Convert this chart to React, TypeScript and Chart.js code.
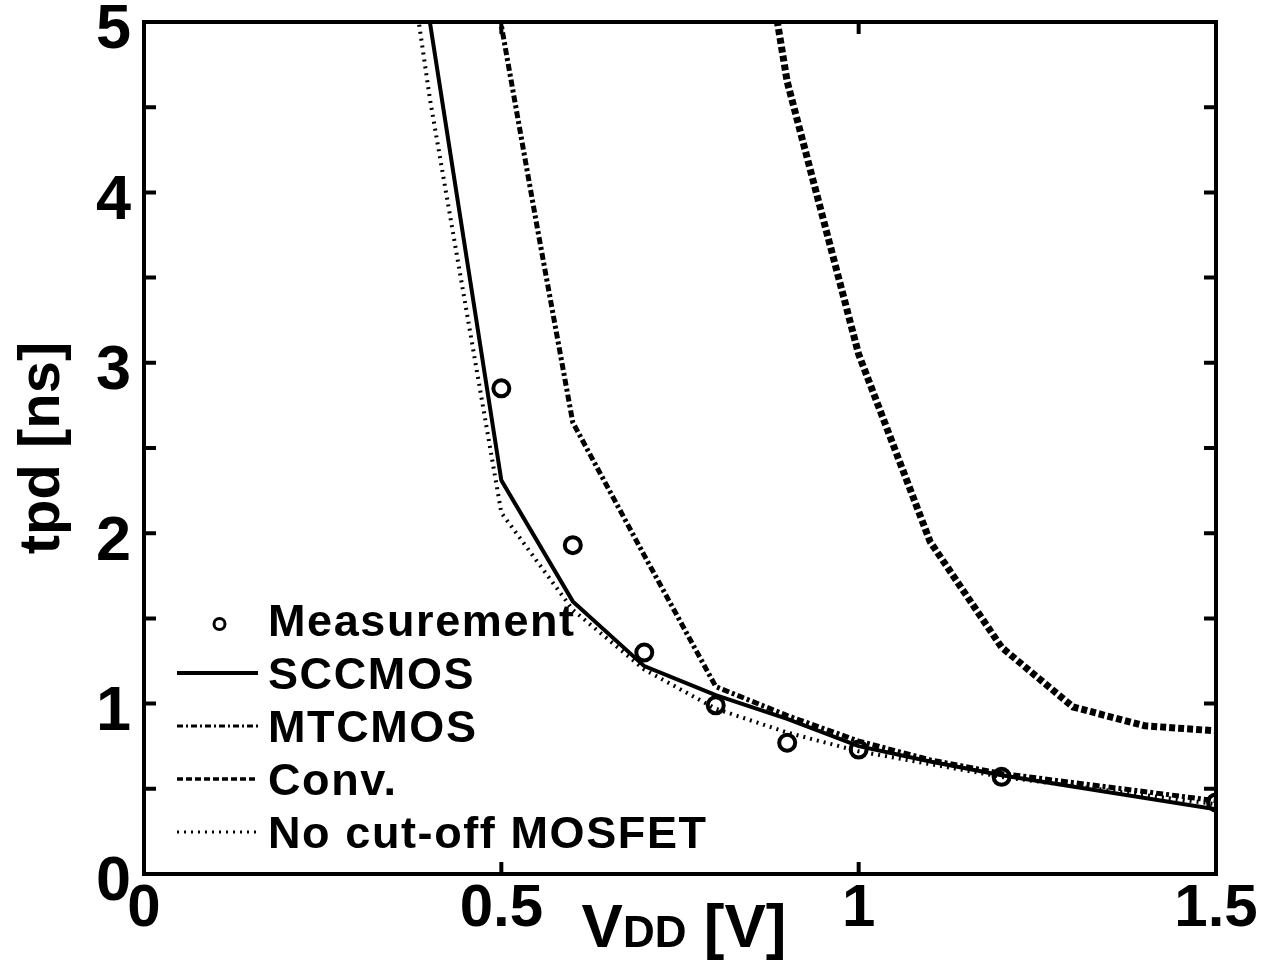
import React, { useEffect, useRef } from "react";
import { Chart, registerables } from "chart.js";

Chart.register(...registerables);

const FONT = '"Liberation Sans", Arial, Helvetica, sans-serif';

// ---- data (V in volts, t in ns) ----
const measV = [0.5, 0.6, 0.7, 0.8, 0.9, 1.0, 1.2, 1.5];
const measT = [2.85, 1.93, 1.3, 0.99, 0.77, 0.73, 0.57, 0.42];

const sccV = [0.35, 0.4, 0.5, 0.6, 0.7, 0.8, 0.9, 1.0, 1.1, 1.2, 1.5];
const sccT = [8.0, 5.0, 2.31, 1.6, 1.22, 1.05, 0.91, 0.75, 0.66, 0.58, 0.38];

const mtV = [0.45, 0.5, 0.55, 0.6, 0.7, 0.8, 0.9, 1.0, 1.1, 1.2, 1.5];
const mtT = [8.5, 4.98, 3.8, 2.65, 1.87, 1.1, 0.93, 0.78, 0.67, 0.59, 0.43];

const convV = [0.8, 0.9, 1.0, 1.1, 1.2, 1.3, 1.4, 1.5];
const convT = [7.2, 4.65, 3.05, 1.95, 1.33, 0.98, 0.87, 0.84];

const ncV = [0.35, 0.4, 0.5, 0.6, 0.7, 0.8, 0.9, 1.0, 1.2, 1.5];
const ncT = [6.0, 4.55, 2.12, 1.55, 1.2, 0.97, 0.83, 0.72, 0.57, 0.41];

const seriesLabels = ["Measurement", "SCCMOS", "MTCMOS", "Conv.", "No cut-off MOSFET"];

const xTickMarks = [0.5, 1.0];
const yTickMarks = [0.5, 1, 1.5, 2, 2.5, 3, 3.5, 4, 4.5];

const pts = (xs: number[], ys: number[]) => xs.map((x, i) => ({ x, y: ys[i] }));

const framePlugin = {
  id: "frameTicks",
  afterDatasetsDraw(chart: any) {
    const { ctx, chartArea: a, scales } = chart;
    ctx.save();
    ctx.strokeStyle = "#000";
    ctx.lineWidth = 4;
    ctx.setLineDash([]);
    ctx.strokeRect(a.left, a.top, a.right - a.left, a.bottom - a.top);
    const tl = 12;
    ctx.beginPath();
    for (const v of yTickMarks) {
      const py = scales.y.getPixelForValue(v);
      ctx.moveTo(a.left, py);
      ctx.lineTo(a.left + tl, py);
      ctx.moveTo(a.right, py);
      ctx.lineTo(a.right - tl, py);
    }
    for (const v of xTickMarks) {
      const px = scales.x.getPixelForValue(v);
      ctx.moveTo(px, a.bottom);
      ctx.lineTo(px, a.bottom - tl);
      ctx.moveTo(px, a.top);
      ctx.lineTo(px, a.top + tl);
    }
    ctx.stroke();
    ctx.restore();
  },
};

const legendPlugin = {
  id: "inlineLegend",
  afterDatasetsDraw(chart: any) {
    const ctx = chart.ctx;
    const x0 = 177;
    const x1 = 258;
    const textX = 268;
    const base0 = 636;
    const step = 53;
    ctx.save();
    chart.data.datasets.forEach((ds: any, i: number) => {
      const base = base0 + i * step;
      const my = base - 16;
      ctx.strokeStyle = "#000";
      if (!ds.showLine) {
        ctx.setLineDash([]);
        ctx.lineWidth = 3;
        ctx.beginPath();
        ctx.arc((x0 + x1) / 2 + 2, my + 4, 5.5, 0, Math.PI * 2);
        ctx.stroke();
      } else {
        ctx.setLineDash(ds.legendDash || ds.borderDash || []);
        ctx.lineWidth = ds.legendWidth || 3;
        ctx.beginPath();
        ctx.moveTo(x0, my);
        ctx.lineTo(x1, my);
        ctx.stroke();
      }
      ctx.setLineDash([]);
      ctx.fillStyle = "#000";
      ctx.font = `bold 45px ${FONT}`;
      (ctx as any).letterSpacing = "1.6px";
      ctx.textBaseline = "alphabetic";
      ctx.textAlign = "left";
      ctx.fillText(ds.label, textX, base);
      (ctx as any).letterSpacing = "0px";
    });
    ctx.restore();
  },
};

const xTitlePlugin = {
  id: "xTitle",
  afterDraw(chart: any) {
    const { ctx, chartArea: a } = chart;
    const parts = [
      { t: "V", s: 62 },
      { t: "DD", s: 44 },
      { t: " [V]", s: 62 },
    ];
    ctx.save();
    ctx.fillStyle = "#000";
    ctx.textBaseline = "alphabetic";
    ctx.textAlign = "left";
    let total = 0;
    const widths = parts.map((p) => {
      ctx.font = `bold ${p.s}px ${FONT}`;
      const w = ctx.measureText(p.t).width;
      total += w;
      return w;
    });
    let x = (a.left + a.right) / 2 + 4 - total / 2;
    const baseline = 947;
    parts.forEach((p, i) => {
      ctx.font = `bold ${p.s}px ${FONT}`;
      ctx.fillText(p.t, x, baseline);
      x += widths[i];
    });
    ctx.restore();
  },
};

export default function App() {
  const ref = useRef<HTMLCanvasElement>(null);

  useEffect(() => {
    if (!ref.current) return;
    const line = { showLine: true, pointRadius: 0, borderColor: "#000", backgroundColor: "transparent", tension: 0, fill: false };
    const chart = new Chart(ref.current, {
      type: "scatter",
      data: {
        datasets: [
          {
            label: seriesLabels[0],
            data: pts(measV, measT),
            showLine: false,
            pointStyle: "circle",
            pointRadius: 8,
            pointBorderWidth: 4,
            pointBackgroundColor: "rgba(0,0,0,0)",
            pointBorderColor: "#000",
            borderColor: "#000",
            backgroundColor: "transparent",
          } as any,
          { label: seriesLabels[1], data: pts(sccV, sccT), ...line, borderWidth: 4, borderDash: [], legendWidth: 4 } as any,
          { label: seriesLabels[2], data: pts(mtV, mtT), ...line, borderWidth: 5, borderDash: [7, 3, 3, 3], legendDash: [6, 3, 2, 3], legendWidth: 3 } as any,
          { label: seriesLabels[3], data: pts(convV, convT), ...line, borderWidth: 7, borderDash: [6, 3], legendDash: [6, 3], legendWidth: 3.5 } as any,
          { label: seriesLabels[4], data: pts(ncV, ncT), ...line, borderWidth: 4, borderDash: [2, 5], legendDash: [2, 5], legendWidth: 3 } as any,
        ],
      },
      options: {
        responsive: false,
        animation: false,
        devicePixelRatio: 1,
        layout: { padding: { left: 0, top: 22, right: 58, bottom: 0 } },
        plugins: {
          legend: { display: false },
          tooltip: { enabled: false },
        },
        scales: {
          x: {
            type: "linear",
            min: 0,
            max: 1.5,
            grid: { display: false },
            border: { display: false },
            ticks: {
              stepSize: 0.5,
              color: "#000",
              padding: -3,
              maxRotation: 0,
              autoSkip: false,
              font: { family: FONT, size: 60, weight: "bold", lineHeight: 1 },
              callback: (v: any) => String(v),
            },
            afterFit(s: any) {
              s.height = 977 - 874;
              s.paddingLeft = 0;
              s.paddingRight = 0;
            },
          },
          y: {
            type: "linear",
            min: 0,
            max: 5,
            grid: { display: false },
            border: { display: false },
            ticks: {
              stepSize: 1,
              color: "#000",
              padding: 5,
              labelOffset: 9,
              font: { family: FONT, size: 63, weight: "bold", lineHeight: 1 },
              callback: (v: any) => String(v),
            },
            title: {
              display: true,
              text: "tpd [ns]",
              color: "#000",
              font: { family: FONT, size: 58, weight: "bold" },
              padding: { top: 8, bottom: 0 },
            },
            afterFit(s: any) {
              s.width = 144;
              s.paddingTop = 0;
              s.paddingBottom = 0;
            },
          },
        },
      } as any,
      plugins: [framePlugin, legendPlugin, xTitlePlugin],
    });
    return () => chart.destroy();
  }, []);

  return (
    <div style={{ position: "absolute", left: 0, top: 0, width: 1274, height: 977, background: "#fff" }}>
      <canvas ref={ref} width={1274} height={977} style={{ display: "block", width: 1274, height: 977 }} />
    </div>
  );
}
